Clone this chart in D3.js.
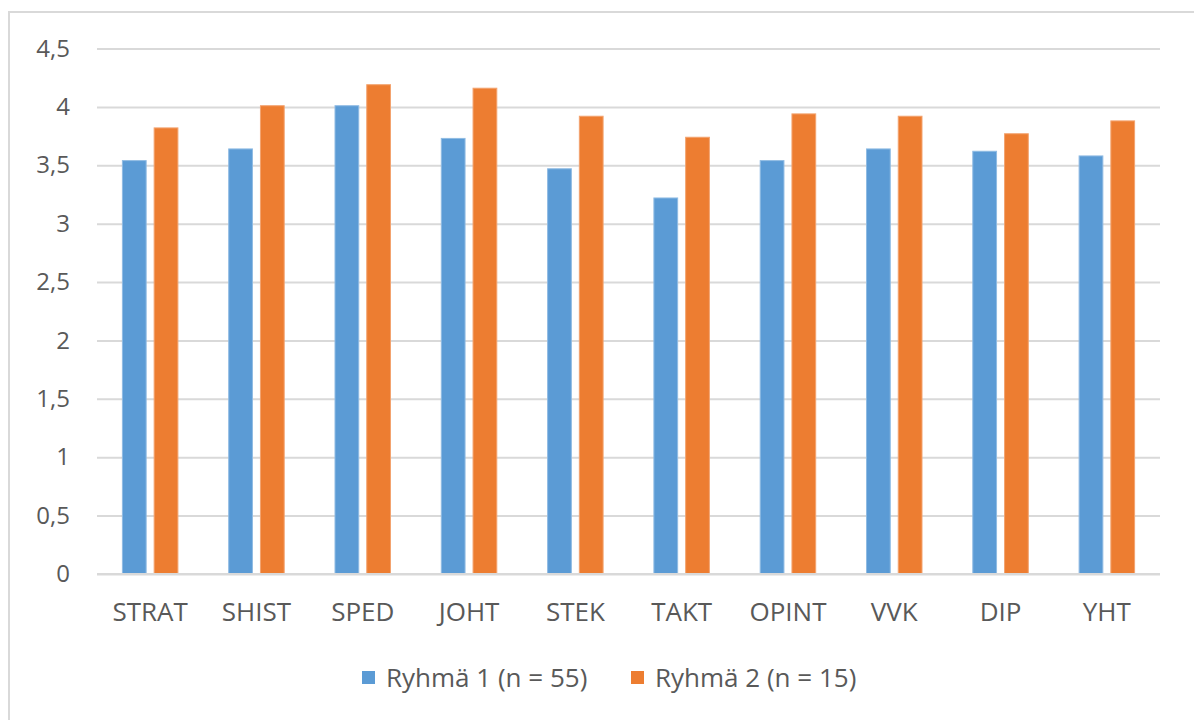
<!DOCTYPE html>
<html>
<head>
<meta charset="utf-8">
<script src="https://cdn.jsdelivr.net/npm/d3@7"></script>
<style>
  html, body { margin: 0; padding: 0; background: #fff; }
  svg { display: block; }
  text { font-family: "Open Sans", sans-serif; fill: #595959; }
</style>
</head>
<body>
<svg id="chart" width="1194" height="720"></svg>
<script>
const categories = ["STRAT", "SHIST", "SPED", "JOHT", "STEK", "TAKT", "OPINT", "VVK", "DIP", "YHT"];
const seriesNames = ["Ryhmä 1 (n = 55)", "Ryhmä 2 (n = 15)"];
const group1 = [3.54, 3.64, 4.01, 3.73, 3.47, 3.22, 3.54, 3.64, 3.62, 3.58];
const group2 = [3.82, 4.01, 4.19, 4.16, 3.92, 3.74, 3.94, 3.92, 3.77, 3.88];
const yTicks = [0, 0.5, 1, 1.5, 2, 2.5, 3, 3.5, 4, 4.5];
const colors = ["#5B9BD5", "#ED7D31"];
const strokes = ["#8fbbe3", "#f3a36f"];

const svg = d3.select("#chart");

// outer chart frame (extends beyond the viewport on right/bottom)
svg.append("rect")
  .attr("x", 9).attr("y", 12)
  .attr("width", 1300).attr("height", 800)
  .attr("fill", "#fff")
  .attr("stroke", "#d9d9d9").attr("stroke-width", 2);

const plotLeft = 97, plotRight = 1160, plotTop = 48.5, plotBottom = 574;

const y = d3.scaleLinear().domain([0, 4.5]).range([plotBottom, plotTop]);
const x0 = d3.scaleBand().domain(categories).range([plotLeft, plotRight]).paddingInner(0).paddingOuter(0);
const x1 = d3.scaleBand().domain([0, 1]).range([0, x0.bandwidth()]).paddingInner(0.252).paddingOuter(0.8);

// gridlines
const grid = svg.append("g")
  .attr("transform", `translate(${plotLeft},0)`)
  .call(d3.axisLeft(y).tickValues(yTicks).tickSize(-(plotRight - plotLeft)).tickFormat(""));
grid.select(".domain").remove();
grid.selectAll(".tick line").attr("stroke", "#d9d9d9").attr("stroke-width", 2);

// y labels
const yAxis = svg.append("g")
  .attr("transform", `translate(70,0)`)
  .call(d3.axisLeft(y).tickValues(yTicks).tickSize(0).tickPadding(0)
    .tickFormat(d => String(d).replace(".", ",")));
yAxis.select(".domain").remove();
yAxis.selectAll("text")
  .style("font-family", "'Open Sans', sans-serif")
  .style("font-size", "24px")
  .attr("fill", "#595959");

// bars
const data = categories.map((c, i) => ({ cat: c, vals: [group1[i], group2[i]] }));
const groups = svg.append("g").selectAll("g")
  .data(data).join("g")
  .attr("transform", d => `translate(${x0(d.cat)},0)`);
groups.selectAll("rect")
  .data(d => d.vals.map((v, k) => ({ v, k })))
  .join("rect")
  .attr("x", d => x1(d.k))
  .attr("width", x1.bandwidth())
  .attr("y", d => y(d.v))
  .attr("height", d => y(0) - y(d.v))
  .attr("fill", d => colors[d.k])
  .attr("stroke", d => strokes[d.k])
  .attr("stroke-width", 1);

// x axis baseline
svg.append("line")
  .attr("x1", plotLeft).attr("x2", plotRight)
  .attr("y1", plotBottom).attr("y2", plotBottom)
  .attr("stroke", "#d9d9d9").attr("stroke-width", 2);

// x labels
const xAxis = svg.append("g")
  .attr("transform", `translate(0,${plotBottom})`)
  .call(d3.axisBottom(x0).tickSize(0).tickPadding(0));
xAxis.select(".domain").remove();
xAxis.selectAll("text")
  .attr("dy", 0).attr("y", 47)
  .style("font-family", "'Open Sans', sans-serif")
  .style("font-size", "26px")
  .attr("fill", "#595959");

// legend
const legendItems = [
  { name: seriesNames[0], color: colors[0], x: 362 },
  { name: seriesNames[1], color: colors[1], x: 631 }
];
const legend = svg.append("g");
legendItems.forEach(it => {
  legend.append("rect")
    .attr("x", it.x).attr("y", 671)
    .attr("width", 13).attr("height", 13)
    .attr("fill", it.color);
  legend.append("text")
    .attr("x", it.x + 24).attr("y", 687)
    .style("font-size", "26px")
    .text(it.name);
});
</script>
</body>
</html>
